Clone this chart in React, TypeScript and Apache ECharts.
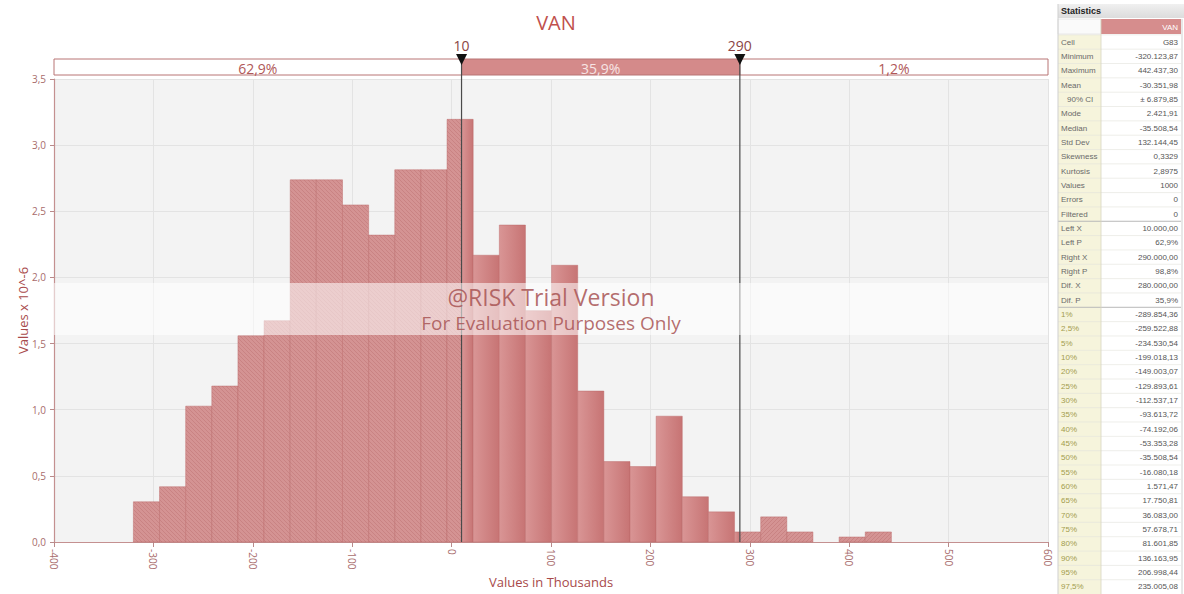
import React, { useEffect, useRef } from "react";
import * as echarts from "echarts";

// ---------- DATA ----------
const binEdges = [
  -320.12, -293.83, -267.53, -241.24, -214.94, -188.65, -162.35, -136.06, -109.76, -83.47,
  -57.17, -30.88, -4.58, 21.71, 48.01, 74.3, 100.6, 126.89, 153.19, 179.48,
  205.78, 232.07, 258.37, 284.66, 310.96, 337.25, 363.55, 389.84, 416.14, 442.44,
];
// density values (x 10^-6)
const densities = [
  0.304, 0.418, 1.027, 1.179, 1.559, 1.673, 2.738, 2.738, 2.548, 2.32,
  2.814, 2.814, 3.195, 2.168, 2.396, 1.749, 2.092, 1.141, 0.608, 0.57,
  0.951, 0.342, 0.228, 0.076, 0.19, 0.076, 0, 0.038, 0.076,
];
const delimiters = [10, 290];
const delimiterLabels = ["10", "290"];
const segmentLabels = ["62,9%", "35,9%", "1,2%"];
const xMin = -400;
const xMax = 600;
const yMax = 3.5;

const statLabels = [
  "Cell", "Minimum", "Maximum", "Mean", "90% CI", "Mode", "Median", "Std Dev", "Skewness", "Kurtosis",
  "Values", "Errors", "Filtered", "Left X", "Left P", "Right X", "Right P", "Dif. X", "Dif. P",
  "1%", "2,5%", "5%", "10%", "20%", "25%", "30%", "35%", "40%", "45%", "50%", "55%", "60%", "65%",
  "70%", "75%", "80%", "90%", "95%", "97,5%",
];
const statValues = [
  "G83", "-320.123,87", "442.437,30", "-30.351,98", "± 6.879,85", "2.421,91", "-35.508,54", "132.144,45",
  "0,3329", "2,8975", "1000", "0", "0", "10.000,00", "62,9%", "290.000,00", "98,8%", "280.000,00", "35,9%",
  "-289.854,36", "-259.522,88", "-234.530,54", "-199.018,13", "-149.003,07", "-129.893,61", "-112.537,17",
  "-93.613,72", "-74.192,06", "-53.353,28", "-35.508,54", "-16.080,18", "1.571,47", "17.750,81",
  "36.083,00", "57.678,71", "81.601,85", "136.163,95", "206.998,44", "235.005,08",
];

// ---------- STYLE ----------
const FONT = "'Open Sans', 'Noto Sans', sans-serif";
const TFONT = "'Liberation Sans', 'DejaVu Sans', sans-serif";
const RED = "#c0504d";
const LABEL = "#a86c6c";
const NAME = "#a84a4a";

const hatch = (dir: string) =>
  "data:image/svg+xml;utf8," +
  encodeURIComponent(
    `<svg xmlns="http://www.w3.org/2000/svg" width="4" height="4"><path d="${
      dir === "l" ? "M-1,-1 L5,5 M-1,3 L1,5 M3,-1 L5,1" : "M-1,5 L5,-1 M-1,1 L1,-1 M3,5 L5,3"
    }" stroke="rgba(140,50,50,0.16)" stroke-width="1"/></svg>`
  );

export default function App() {
  const ref = useRef<HTMLDivElement>(null);
  useEffect(() => {
    document.body.style.margin = "0";
    if (!ref.current) return;
    const chart = echarts.init(ref.current, null, { renderer: "svg" });

    const hatchL = { image: hatch("l"), repeat: "repeat", imageWidth: 4, imageHeight: 4 };
    const hatchR = { image: hatch("r"), repeat: "repeat", imageWidth: 4, imageHeight: 4 };

    const barData = densities.map((d, i) => [binEdges[i], binEdges[i + 1], d]);

    const renderBar = (params: any, api: any) => {
      const a = api.value(0);
      const b = api.value(1);
      const h = api.value(2);
      if (!(h > 0)) return { type: "group", children: [] };
      const cuts = [a, ...delimiters.filter((d) => d > a && d < b), b];
      const children: any[] = [];
      for (let k = 0; k < cuts.length - 1; k++) {
        const s = cuts[k];
        const e = cuts[k + 1];
        const mid = (s + e) / 2;
        const inside = mid > delimiters[0] && mid < delimiters[1];
        const p0 = api.coord([s, h]);
        const p1 = api.coord([e, 0]);
        const shape = { x: p0[0], y: p0[1], width: p1[0] - p0[0], height: p1[1] - p0[1] };
        if (inside) {
          children.push({
            type: "rect",
            shape,
            style: {
              fill: new echarts.graphic.LinearGradient(0, 0, 1, 0, [
                { offset: 0, color: "#d99595" },
                { offset: 1, color: "#c77474" },
              ]),
            },
          });
        } else {
          children.push({ type: "rect", shape, style: { fill: "#d49393" } });
          children.push({
            type: "rect",
            shape,
            style: { fill: mid < delimiters[0] ? hatchL : hatchR },
          });
        }
      }
      const q0 = api.coord([a, h]);
      const q1 = api.coord([b, 0]);
      children.push({
        type: "rect",
        shape: { x: q0[0], y: q0[1], width: q1[0] - q0[0], height: q1[1] - q0[1] },
        style: { fill: "none", stroke: "rgba(185,100,100,0.55)", lineWidth: 0.8 },
      });
      return { type: "group", children };
    };

    const renderDelims = (params: any, api: any) => {
      const tl = api.coord([xMin, yMax]);
      const br = api.coord([xMax, 0]);
      const barTop = tl[1] - 20;
      const barBot = tl[1] - 4;
      const edges = [xMin, ...delimiters, xMax];
      const children: any[] = [];
      for (let k = 0; k < edges.length - 1; k++) {
        const x0 = api.coord([edges[k], 0])[0];
        const x1 = api.coord([edges[k + 1], 0])[0];
        const filled = k === 1;
        children.push({
          type: "rect",
          shape: { x: x0, y: barTop, width: x1 - x0, height: barBot - barTop },
          style: {
            fill: filled ? "#d48a8a" : "#ffffff",
            stroke: "#b87474",
            lineWidth: 1,
          },
        });
        children.push({
          type: "text",
          x: (x0 + x1) / 2,
          y: (barTop + barBot) / 2 + 1,
          style: {
            text: segmentLabels[k],
            fill: filled ? "#f7e4e4" : "#b05858",
            font: `14px ${FONT}`,
            align: "center",
            verticalAlign: "middle",
            textAlign: "center",
            textVerticalAlign: "middle",
          },
        });
      }
      delimiters.forEach((d, i) => {
        const x = api.coord([d, 0])[0];
        children.push({
          type: "line",
          shape: { x1: x, y1: barTop, x2: x, y2: br[1] },
          style: { stroke: "#4a4a4a", lineWidth: 1.2 },
        });
        children.push({
          type: "polygon",
          shape: { points: [[x - 5.5, barTop - 5], [x + 5.5, barTop - 5], [x, barTop + 6]] },
          style: { fill: "#111111" },
        });
        children.push({
          type: "text",
          x,
          y: barTop - 14,
          style: {
            text: delimiterLabels[i],
            fill: "#8a4444",
            font: `14px ${FONT}`,
            align: "center",
            verticalAlign: "middle",
            textAlign: "center",
            textVerticalAlign: "middle",
          },
        });
      });
      return { type: "group", children };
    };

    // statistics table graphic
    const tX = 1058;
    const tLabW = 43;
    const tRight = 1181;
    const rowH = 14.34;
    const firstRowY = 42;
    const tableEls: any[] = [];
    tableEls.push({
      type: "rect",
      shape: { x: tX, y: 4, width: 1184 - tX, height: 14 },
      style: {
        fill: new echarts.graphic.LinearGradient(0, 0, 0, 1, [
          { offset: 0, color: "#f0f0f0" },
          { offset: 1, color: "#dcdcdc" },
        ]),
      },
    });
    tableEls.push({
      type: "text",
      x: tX + 3,
      y: 11,
      style: {
        text: "Statistics",
        fill: "#222",
        font: `bold 9px ${TFONT}`,
        align: "left",
        verticalAlign: "middle",
        textAlign: "left",
        textVerticalAlign: "middle",
      },
    });
    tableEls.push({
      type: "rect",
      shape: { x: tX, y: 19, width: tLabW, height: 15 },
      style: { fill: "#fafafa", stroke: "#dddddd", lineWidth: 0.6 },
    });
    tableEls.push({
      type: "rect",
      shape: { x: tX + tLabW, y: 19, width: tRight - tX - tLabW, height: 15 },
      style: { fill: "#d68d8d" },
    });
    tableEls.push({
      type: "text",
      x: tRight - 3,
      y: 27,
      style: {
        text: "VAN",
        fill: "#ffffff",
        font: `8px ${TFONT}`,
        align: "right",
        verticalAlign: "middle",
        textAlign: "right",
        textVerticalAlign: "middle",
      },
    });
    const tableTop = firstRowY - rowH / 2;
    tableEls.push({
      type: "rect",
      shape: { x: tX, y: tableTop, width: tLabW, height: rowH * statLabels.length },
      style: { fill: "#f6f4dc" },
    });
    tableEls.push({
      type: "rect",
      shape: { x: tX + tLabW, y: tableTop, width: tRight - tX - tLabW, height: rowH * statLabels.length },
      style: { fill: "#ffffff" },
    });
    statLabels.forEach((lab, i) => {
      const cy = firstRowY + i * rowH;
      const isPct = i >= 19;
      const groupBreak = i === 13 || i === 19;
      tableEls.push({
        type: "line",
        shape: { x1: tX, y1: cy - rowH / 2, x2: tRight, y2: cy - rowH / 2 },
        style: { stroke: groupBreak ? "#b8b8b8" : "#e2e2dc", lineWidth: groupBreak ? 1 : 0.6 },
      });
      tableEls.push({
        type: "text",
        x: tX + (i === 4 ? 9 : 3),
        y: cy,
        style: {
          text: lab,
          fill: isPct ? "#a39c4c" : "#6a6a6a",
          font: `8px ${TFONT}`,
          align: "left",
          verticalAlign: "middle",
          textAlign: "left",
          textVerticalAlign: "middle",
        },
      });
      tableEls.push({
        type: "text",
        x: tRight - 3,
        y: cy,
        style: {
          text: statValues[i],
          fill: "#555555",
          font: `8px ${TFONT}`,
          align: "right",
          verticalAlign: "middle",
          textAlign: "right",
          textVerticalAlign: "middle",
        },
      });
    });
    tableEls.push({
      type: "line",
      shape: { x1: tX + tLabW, y1: 19, x2: tX + tLabW, y2: 594 },
      style: { stroke: "#d8d6c0", lineWidth: 0.8 },
    });
    tableEls.push({
      type: "line",
      shape: { x1: tX, y1: 4, x2: tX, y2: 594 },
      style: { stroke: "#cfcfcf", lineWidth: 1 },
    });
    tableEls.push({
      type: "line",
      shape: { x1: tRight + 1, y1: 19, x2: tRight + 1, y2: 594 },
      style: { stroke: "#d0d0d0", lineWidth: 1 },
    });

    const option: any = {
      animation: false,
      backgroundColor: "#ffffff",
      title: {
        text: "VAN",
        left: 551,
        top: 7,
        textAlign: "center",
        textStyle: { color: RED, fontSize: 20, fontWeight: "normal", fontFamily: FONT },
      },
      grid: {
        left: 54,
        right: 136,
        top: 79,
        bottom: 52,
        show: true,
        backgroundColor: "#f3f3f3",
        borderWidth: 0,
        containLabel: false,
        outerBoundsMode: "none",
      },
      xAxis: {
        type: "value",
        min: xMin,
        max: xMax,
        interval: 100,
        name: "Values in Thousands",
        nameLocation: "middle",
        nameGap: 33,
        nameMoveOverlap: false,
        nameTextStyle: { color: NAME, fontSize: 13, fontFamily: FONT },
        axisLine: { show: true, onZero: false, lineStyle: { color: "#c49090", width: 1.2 } },
        axisTick: { show: true, length: 5, lineStyle: { color: "#b98a8a" } },
        axisLabel: { rotate: -90, color: LABEL, fontSize: 10, fontFamily: FONT, margin: 7 },
        splitLine: { show: true, lineStyle: { color: "#e3e3e3", width: 1 } },
      },
      yAxis: {
        type: "value",
        min: 0,
        max: yMax,
        interval: 0.5,
        name: "Values x 10^-6",
        nameLocation: "middle",
        nameRotate: 90,
        nameGap: 25,
        nameMoveOverlap: false,
        nameTextStyle: { color: NAME, fontSize: 13, fontFamily: FONT },
        axisLine: { show: true, onZero: false, lineStyle: { color: "#c49090", width: 1.2 } },
        axisTick: { show: true, length: 4, lineStyle: { color: "#b98a8a" } },
        axisLabel: {
          color: LABEL,
          fontSize: 10,
          fontFamily: FONT,
          margin: 8,
          formatter: (v: number) => v.toFixed(1).replace(".", ","),
        },
        splitLine: { show: true, lineStyle: { color: "#e3e3e3", width: 1 } },
      },
      series: [
        {
          type: "custom",
          renderItem: renderBar,
          data: barData,
          clip: false,
          z: 2,
          silent: true,
        },
        {
          type: "custom",
          renderItem: renderDelims,
          data: [[0, 0, 0]],
          clip: false,
          z: 5,
          silent: true,
        },
      ],
      graphic: [
        {
          type: "rect",
          shape: { x: 54, y: 283, width: 994, height: 52 },
          style: { fill: "rgba(255,255,255,0.55)" },
          z: 50,
          silent: true,
        },
        {
          type: "text",
          x: 551,
          y: 297,
          z: 51,
          style: {
            text: "@RISK Trial Version",
            fill: "rgba(168,84,84,0.85)",
            font: `23px ${FONT}`,
            align: "center",
            verticalAlign: "middle",
            textAlign: "center",
            textVerticalAlign: "middle",
          },
        },
        {
          type: "text",
          x: 551,
          y: 323,
          z: 51,
          style: {
            text: "For Evaluation Purposes Only",
            fill: "rgba(168,84,84,0.85)",
            font: `19px ${FONT}`,
            align: "center",
            verticalAlign: "middle",
            textAlign: "center",
            textVerticalAlign: "middle",
          },
        },
        { type: "group", z: 60, children: tableEls },
      ],
    };
    chart.setOption(option);
    return () => chart.dispose();
  }, []);
  return <div ref={ref} style={{ width: 1184, height: 594 }} />;
}
